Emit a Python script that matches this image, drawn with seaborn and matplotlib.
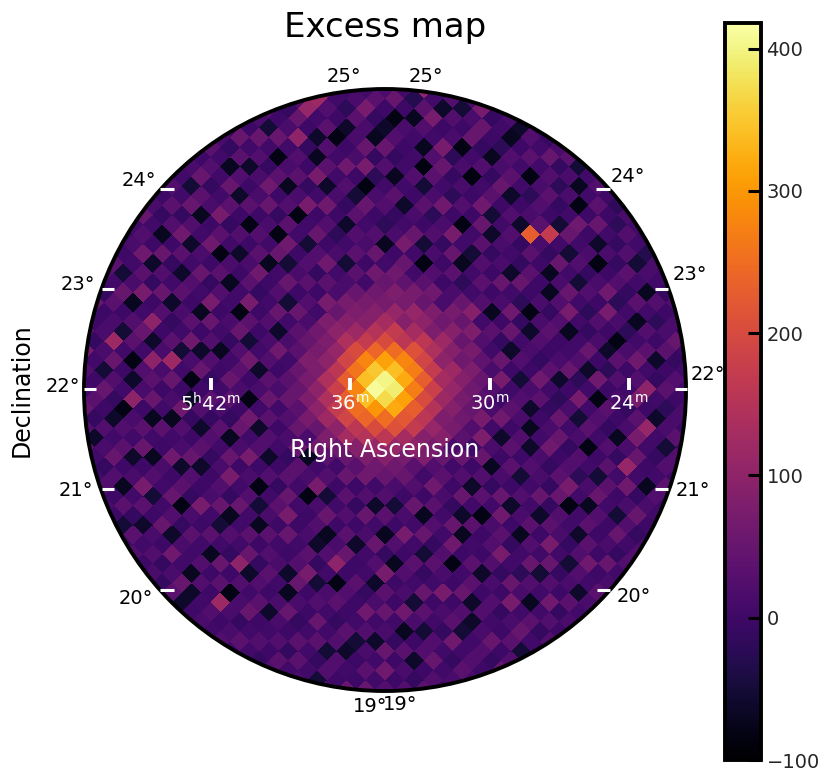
import numpy as np
import matplotlib
matplotlib.use("Agg")
import matplotlib.pyplot as plt
from matplotlib.patches import Circle
from matplotlib.transforms import Affine2D
import seaborn as sns

# Excess counts, on a grid turned 45 degrees (coarser than the original pixels)
row_00 = [5, -10, 15, 35, -50, 5, 25, 0, -20, 15, 5, -10]
row_01 = [0, 15, -60, 25, 5, 50, -10, 15, -70, 5, 35, 0, -20, 25, 5, -30, 15, 0]
row_02 = [15, 70, -10, 5, -70, 0, 35, 5, 25, -20, 15, -80, 0, 50, 5, -10, 25, -50, 15, 5, -10, 25]
row_03 = [5, 25, -50, 15, 50, 0, -20, 25, 5, -80, 15, 35, -10, 5, 60, 0, -60, 15, -10, 35, 5, -70, 25, 0, 15, -10]
row_04 = [0, 100, 5, -60, 25, 0, 50, -10, -70, 15, 35, 5, -20, 25, 0, -50, 50, 5, 15, -80, 0, 25, -10, 35, 5, -20, 15, 50, 0, 5]
row_05 = [25, 5, -30, 35, 70, 0, 15, -80, 5, 25, -10, 50, -60, 0, 15, 35, 170, 5, -50, 25, -10, 15, 60, -20, 5, -70, 25, 0, 35, -10, 5, 15]
row_06 = [-10, 15, 50, 0, -70, 25, 5, 70, -20, 15, -85, 5, 35, 0, 25, -60, 230, 15, -10, 50, 5, -50, 25, 0, 70, 15, -20, 5, 35, -60, 0, 25, 5, -10]
row_07 = [5, 35, 0, -80, 15, 5, -70, 25, 50, -10, 15, 0, 60, -50, 5, 25, -10, 35, 0, -70, 15, 50, 5, -20, 25, 0, -80, 15, 60, 5, -10, 35, 0, 15]
row_08 = [35, 0, 15, 70, -10, -60, 25, 0, 5, -85, 35, 5, -20, 25, 0, 50, -60, 15, 5, -10, 35, 0, -70, 25, 70, 5, -10, 15, -60, 35, 0, 25, 100, 5, -20, 15, 0, 25]
row_09 = [15, 100, 5, -20, 35, 15, -70, 50, -10, 5, 25, -50, 15, 60, 0, -80, 5, 35, -10, 15, -60, 50, 0, 15, -10, 25, -70, 5, 50, 0, -20, 25, 5, 70, 0, -60, 15, 35, -10, 5]
row_10 = [5, 120, 25, 0, -60, 15, 50, -10, 25, -70, 5, 0, 35, -20, 15, 70, 5, -50, 25, 0, 50, 5, -20, -80, 15, 35, 0, 5, 25, -60, 60, 0, 15, -10, 35, 110, 5, -50, 25, 0]
row_11 = [0, 25, 110, 5, 35, -80, 0, 15, 70, -20, 5, 35, -60, 15, 0, 25, -10, 50, -70, 5, 35, 0, 15, 60, -10, -60, 25, 0, 15, 50, -20, 5, -80, 35, 0, 15, 70, 5, -10, 25, 0, 15]
row_12 = [15, -10, 50, 0, -60, 25, 5, 60, 0, -85, 15, 25, -10, 5, 50, -50, 15, 0, 35, -20, 5, 25, -70, 0, 50, 5, 15, -10, 35, -60, 0, 70, 5, 25, -10, -70, 15, 50, 0, 5, 35, -10]
row_13 = [5, 35, 0, 15, 100, -10, -70, 35, 5, 25, -50, 50, 0, -20, 15, 70, 5, -80, 25, 0, 15, 50, 90, 5, 35, -10, -60, 25, 0, 60, 5, -20, 15, -50, 35, 5, 25, -10, 110, 5, -70, 25, 0, 15]
row_14 = [-10, 15, -50, 50, 5, 25, 0, 70, -60, 15, -10, 35, 5, 25, -70, 0, 50, 5, 35, 60, 15, 70, 50, 80, 25, 5, 50, 0, -50, 15, 35, -10, 50, 5, 15, -80, 0, 35, 5, 60, -10, 15, 5, 35]
row_15 = [25, 0, 50, 5, -80, 15, 35, -10, 5, 60, 0, -60, 25, 15, 50, 5, 60, 40, 70, 50, 80, 60, 90, 50, 70, 40, 15, 70, 5, 25, -60, 0, 15, 50, -10, 25, 5, -50, 35, 0, 15, 50, 0, 5]
row_16 = [0, 50, 5, 25, -10, 35, -70, 15, 70, 0, 25, -20, 5, 35, 0, 60, 50, 80, 70, 110, 100, 80, 120, 90, 60, 80, 50, 25, 0, 35, 15, -70, 5, 60, 0, 25, -20, 15, 50, 5, -50, 25, -10, 15]
row_17 = [15, -10, 35, -60, 15, 60, 0, 25, -80, 5, 50, 0, 15, -50, 35, 5, 60, 70, 110, 90, 130, 160, 140, 100, 120, 90, 60, 35, 15, 60, 0, 25, -60, 15, -10, 35, 70, 5, -70, 25, 0, 50, 5, 25]
row_18 = [35, 5, -70, 25, 0, 15, 50, -10, 35, 5, -50, 25, 60, 5, 15, 50, 70, 90, 130, 170, 160, 210, 190, 170, 130, 110, 70, 50, 70, 5, -60, 35, 0, 25, 15, -10, 50, -80, 5, 35, 0, 15, -10, 25]
row_19 = [0, 25, 5, 50, -60, 35, 0, 15, -80, 60, 0, 25, -10, 35, 15, 70, 80, 90, 150, 200, 250, 280, 270, 230, 180, 120, 90, 60, 25, 80, 15, 0, 35, -50, 5, 50, -10, 25, 5, -60, 35, 0, 50, 5]
row_20 = [15, 50, -10, 5, 35, 0, -80, 25, 5, 50, -50, 15, 35, 0, 70, 50, 90, 120, 170, 240, 310, 340, 320, 270, 200, 150, 80, 70, 35, 5, 50, -70, 15, 0, 25, 5, -60, 35, 15, -10, 25, 60, 0, 15]
row_21 = [5, -50, 35, 15, 70, -10, 25, 0, 35, -70, 5, 50, 0, 25, 5, 80, 100, 140, 200, 280, 350, 400, 390, 310, 230, 160, 110, 90, 15, 50, 0, 25, -10, 50, -60, 15, 35, 0, 70, 5, -50, 25, 5, 35]
row_22 = [25, 5, 50, -70, 0, 35, 5, -60, 15, 60, 0, 25, -50, 50, 15, 60, 80, 110, 190, 260, 340, 410, 370, 320, 220, 170, 90, 70, 50, 5, 25, -60, 35, 5, 60, 0, -70, 25, 5, 50, -10, 15, -60, 15]
row_23 = [0, 35, -10, 25, 5, 60, -80, 15, 0, 35, -10, 5, 50, 5, 35, 50, 70, 100, 160, 230, 280, 340, 300, 250, 210, 130, 100, 80, 25, 35, 0, 50, 5, -80, 15, 35, -10, 5, 50, -50, 25, 0, 35, 5]
row_24 = [15, -10, 25, 60, -60, 15, 0, 35, -70, 5, 70, 0, 25, -60, 15, 35, 80, 80, 140, 180, 230, 250, 240, 200, 160, 110, 70, 35, 5, 60, 15, -10, -60, 35, 0, 25, 70, 5, -20, 25, 5, 60, -10, 15]
row_25 = [50, 5, -70, 0, 35, 5, 50, -10, 25, 5, -80, 35, 0, 15, 60, 5, 50, 70, 100, 140, 170, 190, 160, 150, 110, 90, 60, 50, 25, 0, 35, 5, 50, -70, 5, 0, 25, -10, 50, 15, -70, 5, 25, 0]
row_26 = [5, 25, 0, 50, -10, -60, 25, 5, 70, 0, 15, 50, -50, 5, 25, 0, 35, 50, 80, 100, 120, 100, 130, 90, 80, 60, 50, 15, 0, 50, -70, 25, 5, 60, 0, 35, -60, 15, 0, 70, 5, 35, -10, 25]
row_27 = [-10, 15, 60, -60, 25, 5, 35, 0, -70, 50, 5, -10, 25, 60, -60, 35, 15, 50, 35, 70, 50, 80, 60, 50, 35, 60, 5, 25, -50, 15, 5, 50, -10, 25, -80, 5, 35, 0, 25, -10, 15, 50, 5, 0]
row_28 = [25, 0, 5, 35, -10, 50, -60, 15, 35, 0, 25, -70, 5, 35, 0, 15, 50, 5, 25, 50, 15, 60, 35, 5, 50, 0, 25, -60, 35, 0, 70, 5, -50, 35, 15, 0, 50, -60, 25, 5, 0, 35, -50, 15]
row_29 = [5, 35, -50, 15, 70, 0, 25, -10, 5, 60, -60, 25, 0, 50, 15, -80, 5, 35, 0, 15, 50, -70, 5, 25, 0, 35, -10, 50, 5, -70, 25, 0, 35, -10, 5, 70, 0, 25, -60, 15, 50, 0, 25, 5]
row_30 = [0, 25, 5, 50, -70, 5, 100, 0, 35, -50, 15, 50, -10, 5, 35, 0, 60, -60, 25, 5, -10, 35, 15, 70, -50, 5, 25, 0, 15, 50, -10, -70, 25, 5, 50, 0, 15, 35, -50, 5, 25, -10, 50, 5]
row_31 = [15, -10, 35, 0, 25, 50, -60, 15, 120, 5, -80, 0, 35, 15, -10, 50, 5, 25, -60, 0, 35, 5, -80, 15, 50, 0, 35, -60, 5, 25, 70, 0, 15, -50, 35, 5, -10, 60, 5, 25, 0, 15]
row_32 = [5, 50, 0, 15, -50, 35, 5, 100, 15, 50, 0, -60, 25, -10, 35, -70, 15, 70, 0, 25, -10, 50, 5, 0, 25, -70, 15, 50, 0, 5, -60, 35, 0, 60, 15, -50, 25, 5, -10, 35, 15, 0]
row_33 = [25, 0, 15, 120, 5, -80, 25, 35, 0, 15, 60, -10, -60, 25, 5, 50, 0, 15, -80, 5, 35, 70, 0, 15, -60, 25, 100, 0, 35, -10, 15, 50, 5, -70, 0, 25, 50, 5, 15, 0]
row_34 = [0, 35, -10, 15, 50, 0, -60, 15, 50, 5, -70, 25, 0, 35, -10, 15, 70, 5, 25, -50, 15, 0, 50, 5, 35, -10, 5, -80, 25, 0, 60, 5, 15, -10, 35, -60, 0, 25, 5, 35]
row_35 = [15, 70, 5, -50, 25, 5, 100, 0, -70, 35, 5, 15, 50, -60, 0, 25, -10, 50, 5, -70, 35, 5, 0, 25, 70, -50, 15, 35, 0, 5, 25, -60, 50, 0, 15, -10, 35, 5]
row_36 = [5, 25, 0, 50, -10, -80, 15, 35, 5, 0, 60, -60, 25, 0, 15, 50, -70, 5, 35, 0, 25, 15, -60, 50, 0, 25, 5, -10, 35, -50, 15, 5, 60, 0, 25, 5]
row_37 = [120, 5, 35, 0, -60, 25, 5, 50, -70, 15, 0, 35, -10, 70, 5, -50, 25, 5, 50, -10, 35, 5, -70, 15, 0, 50, 5, 25, -60, 0, 35, 5, 25, 0]
row_38 = [15, 50, -10, 25, 5, 35, -60, 0, 25, 5, 50, -80, 15, 0, 35, 5, -10, 100, -60, 25, 0, 15, 50, -10, 5, 35, -50, 25, 5, 0, 50, 15]
row_39 = [0, 25, -60, 15, 50, 0, 15, 70, -50, 5, 25, -10, 35, 5, -70, 50, 0, 25, 5, 35, -60, 15, 0, 35, 5, -10, 25, 0, 50, 5]
row_40 = [35, 5, -10, 25, -70, 5, 35, 0, 50, -60, 15, 5, 25, 0, 35, -80, 15, 50, 0, 5, 25, -10, 35, 5, -50, 15]
row_41 = [5, 25, 0, 35, -10, -60, 15, 0, 60, 5, -70, 25, 0, 120, 15, -10, 5, 25, 0, 35, 5, 15]
row_42 = [15, 0, -50, 35, 5, 25, -10, 15, 50, -60, 5, 25, 0, 15, 35, 5, -10, 25]
row_43 = [5, 25, 0, 15, -10, 35, -60, 0, 15, 5, 25, 0]

rows = [row_00, row_01, row_02, row_03, row_04, row_05, row_06, row_07, row_08, row_09, row_10,
        row_11, row_12, row_13, row_14, row_15, row_16, row_17, row_18, row_19, row_20, row_21,
        row_22, row_23, row_24, row_25, row_26, row_27, row_28, row_29, row_30, row_31, row_32,
        row_33, row_34, row_35, row_36, row_37, row_38, row_39, row_40, row_41, row_42, row_43]

cbar_ticks = [-100, 0, 100, 200, 300, 400]
ra_labels = [r"$5^{\rm h}42^{\rm m}$", r"$36^{\rm m}$", r"$30^{\rm m}$", r"$24^{\rm m}$"]
W, H = 831, 782
cx, cy, radius = 385, 390, 301

# rows are stored without the corners outside the circle, so pad them back with NaN
n = len(rows)
grid = np.full((n, n), np.nan)
for i, row in enumerate(rows):
    left = (n - len(row)) // 2
    grid[i, left:left + len(row)] = row

sns.set_theme(style="white", rc={"font.family": "DejaVu Sans"})
fig = plt.figure(figsize=(W / 100, H / 100), dpi=100)

ax = fig.add_axes([(cx - radius) / W, 1 - (cy + radius) / H, 2 * radius / W, 2 * radius / H])
cax = fig.add_axes([725 / W, 1 - 760 / H, 36 / W, 737 / H])

sns.heatmap(grid, ax=ax, cbar_ax=cax, cmap="inferno", vmin=-100, vmax=418,
            square=False, xticklabels=False, yticklabels=False)

# turn the square cells into diamonds and cut the map to a disc
mesh = ax.collections[0]
mesh.set_antialiased(False)
mesh.set_transform(Affine2D().translate(-n / 2, -n / 2).rotate_deg(45).translate(n / 2, n / 2) + ax.transData)
cells = radius / 13.7
ax.set_xlim(n / 2 - cells, n / 2 + cells)
ax.set_ylim(n / 2 + cells, n / 2 - cells)
disc = Circle((n / 2, n / 2), cells, transform=ax.transData, facecolor="none", edgecolor="black", lw=2.8, zorder=5)
ax.add_patch(disc)
mesh.set_clip_path(disc)
disc.set_clip_on(False)
for s in ax.spines.values():
    s.set_visible(False)

cbar = mesh.colorbar
cbar.set_ticks(cbar_ticks)
cbar.ax.set_yticklabels([str(t).replace("-", "\u2212") for t in cbar_ticks])
cbar.ax.set_axisbelow(False)
cbar.ax.tick_params(direction="in", length=9.5, width=2.2, labelsize=14, pad=4, color="black", right=True)
cbar.outline.set_visible(True)
cbar.outline.set_edgecolor("black")
cbar.outline.set_linewidth(2.8)

# overlay in pixel units for the curved-grid ticks and labels
over = fig.add_axes([0, 0, 1, 1], facecolor="none")
over.set_xlim(0, W)
over.set_ylim(H, 0)
over.axis("off")

for x0, x1, y in [(160, 174, 189), (102, 114, 289), (84, 96, 389), (102, 114, 489), (160, 174, 590),
                  (596, 610, 189), (655, 668, 289), (675, 687, 389), (655, 668, 489), (597, 610, 590)]:
    over.plot([x0, x1], [y, y], color="white", lw=2.2, solid_capstyle="butt")
for x, lab in zip([211, 350, 490, 629], ra_labels):
    over.plot([x, x], [378, 390], color="white", lw=2.8, solid_capstyle="butt")
    over.text(x, 404, lab, color="white", fontsize=14, ha="center", va="center")

dec_labels = [(344, 76, "25"), (426, 76, "25"), (139, 180, "24"), (628, 176, "24"),
              (78, 284, "23"), (690, 275, "23"), (63, 387, "22"), (708, 375, "22"),
              (76, 490, "21"), (693, 490, "21"), (136, 598, "20"), (634, 597, "20"),
              (370, 706, "19"), (400, 705, "19")]
for x, y, lab in dec_labels:
    over.text(x, y, lab + "\u00b0", color="black", fontsize=14, ha="center", va="center")

over.text(385, 450, "Right Ascension", color="white", fontsize=17, ha="center", va="center")
over.text(22, 390, "Declination", color="black", fontsize=17, rotation=90, ha="center", va="center")
over.text(385, 27, "Excess map", color="black", fontsize=24.5, ha="center", va="center")

fig.savefig("out.png", dpi=100)
